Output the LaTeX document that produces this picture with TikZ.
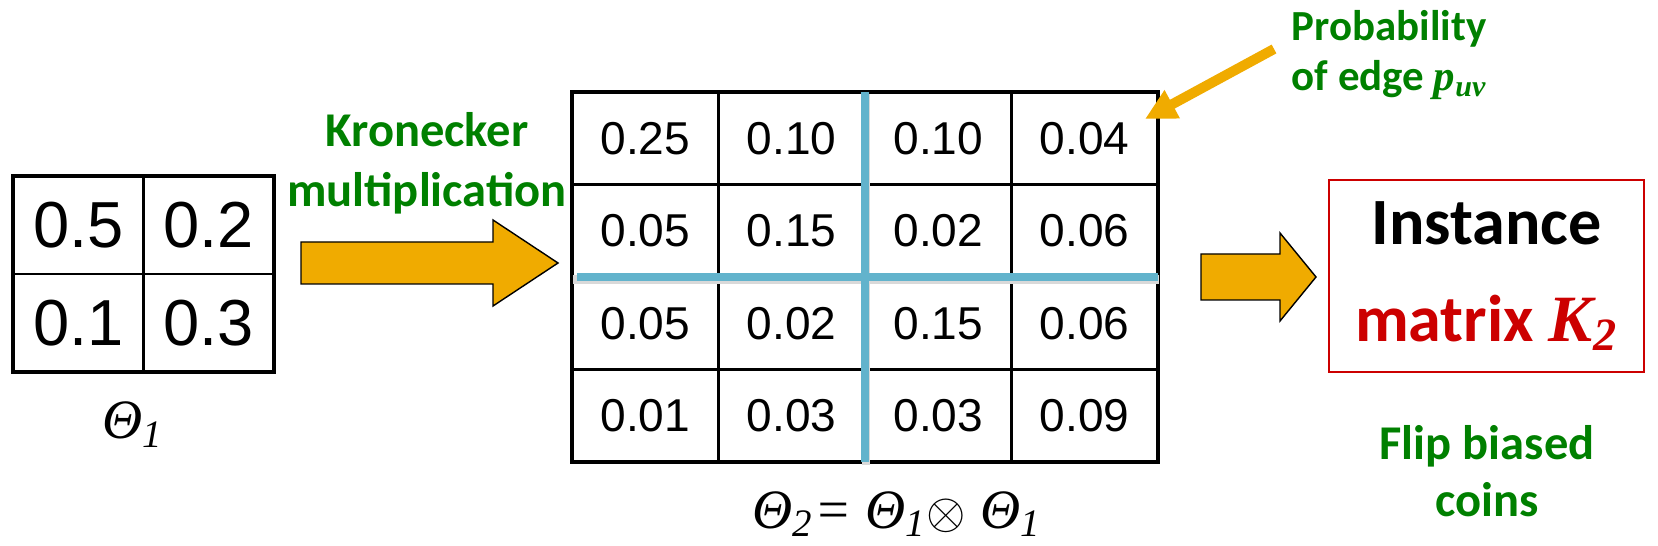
\documentclass[tikz,border=0pt]{standalone}
\usepackage{fontspec}
\setmainfont{Liberation Sans}
\newfontfamily\calfont{Carlito}
\newfontfamily\timesfont{Liberation Serif}
\usetikzlibrary{arrows.meta}

\definecolor{kgreen}{RGB}{0,128,0}
\definecolor{kred}{RGB}{204,0,0}
\definecolor{korange}{RGB}{240,171,0}
\definecolor{kblue}{RGB}{98,179,204}

\begin{document}
\begin{tikzpicture}[
  x=0.01cm, y=-0.01cm,
  smallcell/.style={rectangle, draw, line width=0.6pt, outer sep=0pt, inner sep=0pt,
    minimum width=1.305cm, minimum height=0.98cm, font=\fontsize{18.5}{20}\selectfont},
  bigcell/.style={rectangle, draw, line width=0.6pt, outer sep=0pt, inner sep=0pt,
    minimum width=1.465cm, minimum height=0.925cm, font=\fontsize{13.1}{15}\selectfont},
  outer frame/.style={line width=1.2pt},
  kron line/.style={kblue, line width=2.3pt},
  kron shadow/.style={black!15, line width=2.3pt, transform canvas={shift={(0.01cm,-0.025cm)}}},
  fat arrow/.style={fill=korange, draw=black, line width=0.4pt, line join=miter},
  thin arrow/.style={korange, line width=0.1cm, -{Triangle[length=0.31cm, width=0.30cm]}},
  green label/.style={text=kgreen, align=center, inner sep=0pt},
  theta label/.style={font=\timesfont\itshape\fontsize{15.8}{18}\selectfont, inner sep=0pt, anchor=base}
]
\useasboundingbox (0,0) rectangle (1658,546);

% Theta_1
\node[smallcell] (t11) at (78.25,225) {0.5};
\node[smallcell] (t12) at (208.75,225) {0.2};
\node[smallcell] (t21) at (78.25,323) {0.1};
\node[smallcell] (t22) at (208.75,323) {0.3};
\draw[outer frame] (t11.north west) rectangle (t22.south east);
\node[theta label] (th1) at (133,439) {Θ\textsubscript{1}};

% Theta_2
\node[bigcell] (a11) at (645.25,138.25) {0.25};
\node[bigcell] (a12) at (791.75,138.25) {0.10};
\node[bigcell] (a13) at (938.25,138.25) {0.10};
\node[bigcell] (a14) at (1084.75,138.25) {0.04};
\node[bigcell] (a21) at (645.25,230.75) {0.05};
\node[bigcell] (a22) at (791.75,230.75) {0.15};
\node[bigcell] (a23) at (938.25,230.75) {0.02};
\node[bigcell] (a24) at (1084.75,230.75) {0.06};
\node[bigcell] (a31) at (645.25,323.25) {0.05};
\node[bigcell] (a32) at (791.75,323.25) {0.02};
\node[bigcell] (a33) at (938.25,323.25) {0.15};
\node[bigcell] (a34) at (1084.75,323.25) {0.06};
\node[bigcell] (a41) at (645.25,415.75) {0.01};
\node[bigcell] (a42) at (791.75,415.75) {0.03};
\node[bigcell] (a43) at (938.25,415.75) {0.03};
\node[bigcell] (a44) at (1084.75,415.75) {0.09};
\draw[outer frame] (a11.north west) rectangle (a44.south east);
\node[theta label] (th2) at (897,528) {Θ\textsubscript{2}= Θ\textsubscript{1}$\otimes$ Θ\textsubscript{1}};

% Blocks
\draw[kron shadow] (a12.north east) -- (a42.south east);
\draw[kron shadow] (a21.south west) -- (a24.south east);
\draw[kron line] (a12.north east) -- (a42.south east);
\draw[kron line] ([xshift=1.5pt]a21.south west) -- (a24.south east);

% Labels
\node[green label, font=\calfont\bfseries\fontsize{13.8}{17.1}\selectfont] (kron) at (427,163) {Kronecker\\multiplication};
\node[green label, align=left, anchor=west, font=\calfont\bfseries\fontsize{12.2}{14.2}\selectfont] (prob) at (1291,55)
  {Probability\\of edge {\timesfont\bfseries\itshape p\textsubscript{uv}}};
\node[green label, font=\calfont\bfseries\fontsize{13.8}{16.2}\selectfont] (flip) at (1487,471) {Flip biased\\coins};
\node[draw=kred, line width=0.4pt, minimum width=3.15cm, minimum height=1.92cm, align=center,
  font=\calfont\bfseries\fontsize{18.8}{27.6}\selectfont] (inst) at (1486.5,276)
  {Instance\\\textcolor{kred}{matrix {\timesfont\itshape K\textsubscript{2}}}};

% Arrows
\draw[fat arrow] (301,242) -- (493,242) -- (493,220) -- (558,263) -- (493,306) -- (493,284) -- (301,284) -- cycle;
\draw[fat arrow] (1201,254) -- (1280,254) -- (1280,233) -- (1316,277) -- (1280,321) -- (1280,300) -- (1201,300) -- cycle;
\coordinate (ptail) at (1274,49);
\coordinate (ptip) at (1145,119);
\draw[thin arrow] (ptail) -- (ptip);

\end{tikzpicture}
\end{document}
